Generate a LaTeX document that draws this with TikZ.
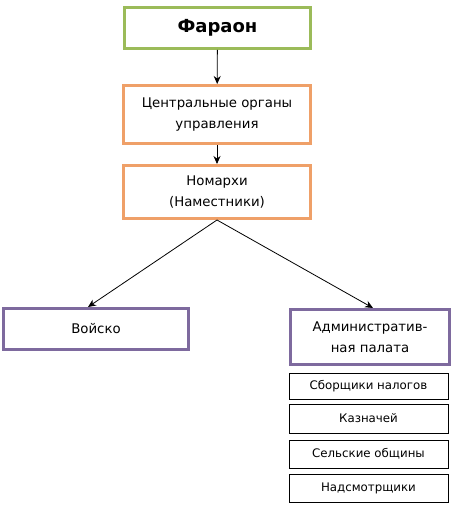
\documentclass[tikz,border=0pt]{standalone}
\usepackage{fontspec}
\setmainfont{DejaVu Sans}
\usetikzlibrary{positioning,arrows.meta}
\definecolor{boxgreen}{HTML}{9BBB59}
\definecolor{boxorange}{HTML}{EFA068}
\definecolor{boxpurple}{HTML}{7E6A9E}
\begin{document}
\begin{tikzpicture}[x=1pt,y=1pt,
							level/.style={draw, line width=3pt, align=center, font=\fontsize{13.3}{21}\selectfont, inner sep=2pt},
							top/.style={level, draw=boxgreen, font=\fontsize{18}{20}\selectfont\bfseries},
							mid/.style={level, draw=boxorange},
							low/.style={level, draw=boxpurple},
							sub/.style={draw, line width=0.8pt, align=center, font=\fontsize{11.8}{13}\selectfont, inner sep=1pt},
							arrow/.style={-{Stealth[length=8pt,width=7pt]}, line width=0.8pt}
							]
							\useasboundingbox (0,0) rectangle (455,509);
							% ===== TOP =====
							\node[top, minimum width=186, minimum height=41] (pharaoh) at (217.5,481) {Фараон};
							
							% ===== ORANGE LEVEL =====
							\node[mid, minimum width=187, minimum height=58] (central) at (217,394.5) {Центральные органы\\управления};
							\node[mid, minimum width=187, minimum height=53] (nomarch) at (217,317) {Номархи\\(Наместники)};
							
							% ===== PURPLE LEVEL =====
							\node[low, minimum width=185, minimum height=41] (army) at (96,180) {Войско};
							\node[low, minimum width=159, minimum height=55] (admin) at (370,172) {Административ-\\ная палата};
							
							% ===== SUBORDINATES =====
							\node[sub, minimum width=159, minimum height=26] (tax)    at (368.5,123)  {Сборщики налогов};
							\node[sub, minimum width=159, minimum height=29] (treas)  at (368.5,90.5) {Казначей};
							\node[sub, minimum width=159, minimum height=28] (rural)  at (368.5,55)   {Сельские общины};
							\node[sub, minimum width=159, minimum height=28] (overse) at (368.5,21)   {Надсмотрщики};
							
							% ===== ARROWS =====
							\draw[arrow] (pharaoh) -- (central);
							\draw[arrow] (central) -- (nomarch);
							\draw[arrow] (nomarch.south) -- ([xshift=-8pt]army.north);
							\draw[arrow] (nomarch.south) -- ([xshift=3pt]admin.north);
							
						\end{tikzpicture}
\end{document}
